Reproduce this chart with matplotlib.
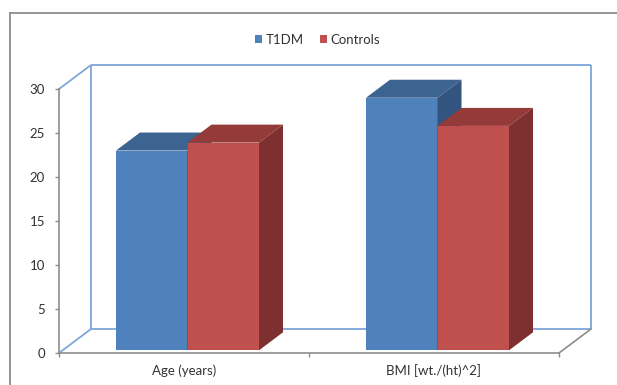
import matplotlib
matplotlib.use("Agg")
import matplotlib.pyplot as plt
from matplotlib.patches import Polygon, Patch
from matplotlib.lines import Line2D

# ---- data ----
categories = ["Age (years)", "BMI [wt./(ht)^2]"]
series_names = ["T1DM", "Controls"]
t1dm = [22.7, 28.7]
controls = [23.6, 25.5]
yticks = [0, 5, 10, 15, 20, 25, 30]

# ---- style ----
W, H = 617, 385
FONT = "Lato"
front_cols = ["#4F81BD", "#C0504D"]
top_cols = ["#3D6391", "#943B39"]
side_cols = ["#33547F", "#7D302F"]
wall_col = "#7EA6D9"
axis_col = "#8C8C8C"
text_col = "#333333"

PX_X = 250.0   # pixels per category unit
PX_Y = 8.8     # pixels per value unit
wall_dx, wall_dy = 32 / PX_X, 24 / PX_Y
bar_dx, bar_dy = 24 / PX_X, 18 / PX_Y
off_dx, off_dy = 3.5 / PX_X, 2.7 / PX_Y
bar_w = 71.5 / PX_X

plt.rcParams["font.family"] = [FONT, "DejaVu Sans"]

fig = plt.figure(figsize=(W / 100, H / 100), dpi=100)
ax = fig.add_axes([59 / W, (H - 353) / H, 500 / W, 264 / H])
ax.set_xlim(0, len(categories))
ax.set_ylim(0, yticks[-1])
ax.patch.set_visible(False)

# outer chart frame
fig.add_artist(Line2D([10 / W, 10 / W], [-0.05, (H - 13) / H], color=axis_col, lw=1.3))
fig.add_artist(Line2D([10 / W, 1.05], [(H - 13) / H] * 2, color=axis_col, lw=1.3))

ymax = yticks[-1]
n = len(categories)
# back wall / floor lines
wall_segs = [
    ((0, 0), (wall_dx, wall_dy)),
    ((0, ymax), (wall_dx, ymax + wall_dy)),
    ((wall_dx, wall_dy), (wall_dx, ymax + wall_dy)),
    ((wall_dx, ymax + wall_dy), (n + wall_dx, ymax + wall_dy)),
    ((n + wall_dx, ymax + wall_dy), (n + wall_dx, wall_dy)),
    ((wall_dx, wall_dy), (n + wall_dx, wall_dy)),
]
for (x0, y0), (x1, y1) in wall_segs:
    ax.plot([x0, x1], [y0, y1], color=wall_col, lw=1.3, clip_on=False, zorder=1,
            solid_capstyle="butt")
ax.plot([n, n + wall_dx], [0, wall_dy], color=axis_col, lw=1.2, clip_on=False, zorder=1)

# bars
series = [t1dm, controls]
z = 5
for i in range(n):
    for j, vals in enumerate(series):
        v = vals[i]
        x0 = i + 0.5 - bar_w + j * bar_w + off_dx
        x1 = x0 + bar_w
        y0 = off_dy
        y1 = y0 + v
        ax.bar(x0, v, width=bar_w, bottom=y0, align="edge", color=front_cols[j],
               zorder=z, clip_on=False, linewidth=0)
        top = Polygon([(x0, y1), (x1, y1), (x1 + bar_dx, y1 + bar_dy), (x0 + bar_dx, y1 + bar_dy)],
                      closed=True, facecolor=top_cols[j], edgecolor="none", zorder=z, clip_on=False)
        side = Polygon([(x1, y0), (x1, y1), (x1 + bar_dx, y1 + bar_dy), (x1 + bar_dx, y0 + bar_dy)],
                       closed=True, facecolor=side_cols[j], edgecolor="none", zorder=z, clip_on=False)
        ax.add_patch(top)
        ax.add_patch(side)
        z += 1

# axes
for s in ["top", "right"]:
    ax.spines[s].set_visible(False)
for s in ["left", "bottom"]:
    ax.spines[s].set_color(axis_col)
    ax.spines[s].set_linewidth(1.2)
    ax.spines[s].set_zorder(2)

ax.set_yticks(yticks)
ax.set_yticklabels([str(t) for t in yticks])
ax.tick_params(axis="y", length=3, width=1, color=axis_col, pad=7, labelsize=9.5,
               labelcolor=text_col)

ax.set_xticks(range(n + 1))
ax.set_xticklabels([""] * (n + 1))
ax.tick_params(axis="x", which="major", length=3, width=1, color=axis_col)
ax.set_xticks([i + 0.5 for i in range(n)], minor=True)
ax.set_xticklabels(categories, minor=True)
ax.tick_params(axis="x", which="minor", length=0, pad=8, labelsize=9.5, labelcolor=text_col)

handles = [Patch(facecolor=front_cols[k], edgecolor="none", label=series_names[k])
           for k in range(len(series_names))]
fig.legend(handles=handles, loc="center", bbox_to_anchor=(0.515, (H - 39.5) / H), ncol=2,
           frameon=False, fontsize=9.5, handlelength=0.5, handleheight=0.5,
           handletextpad=0.3, columnspacing=1.2, labelcolor=text_col)

fig.savefig("out.png", dpi=100)
